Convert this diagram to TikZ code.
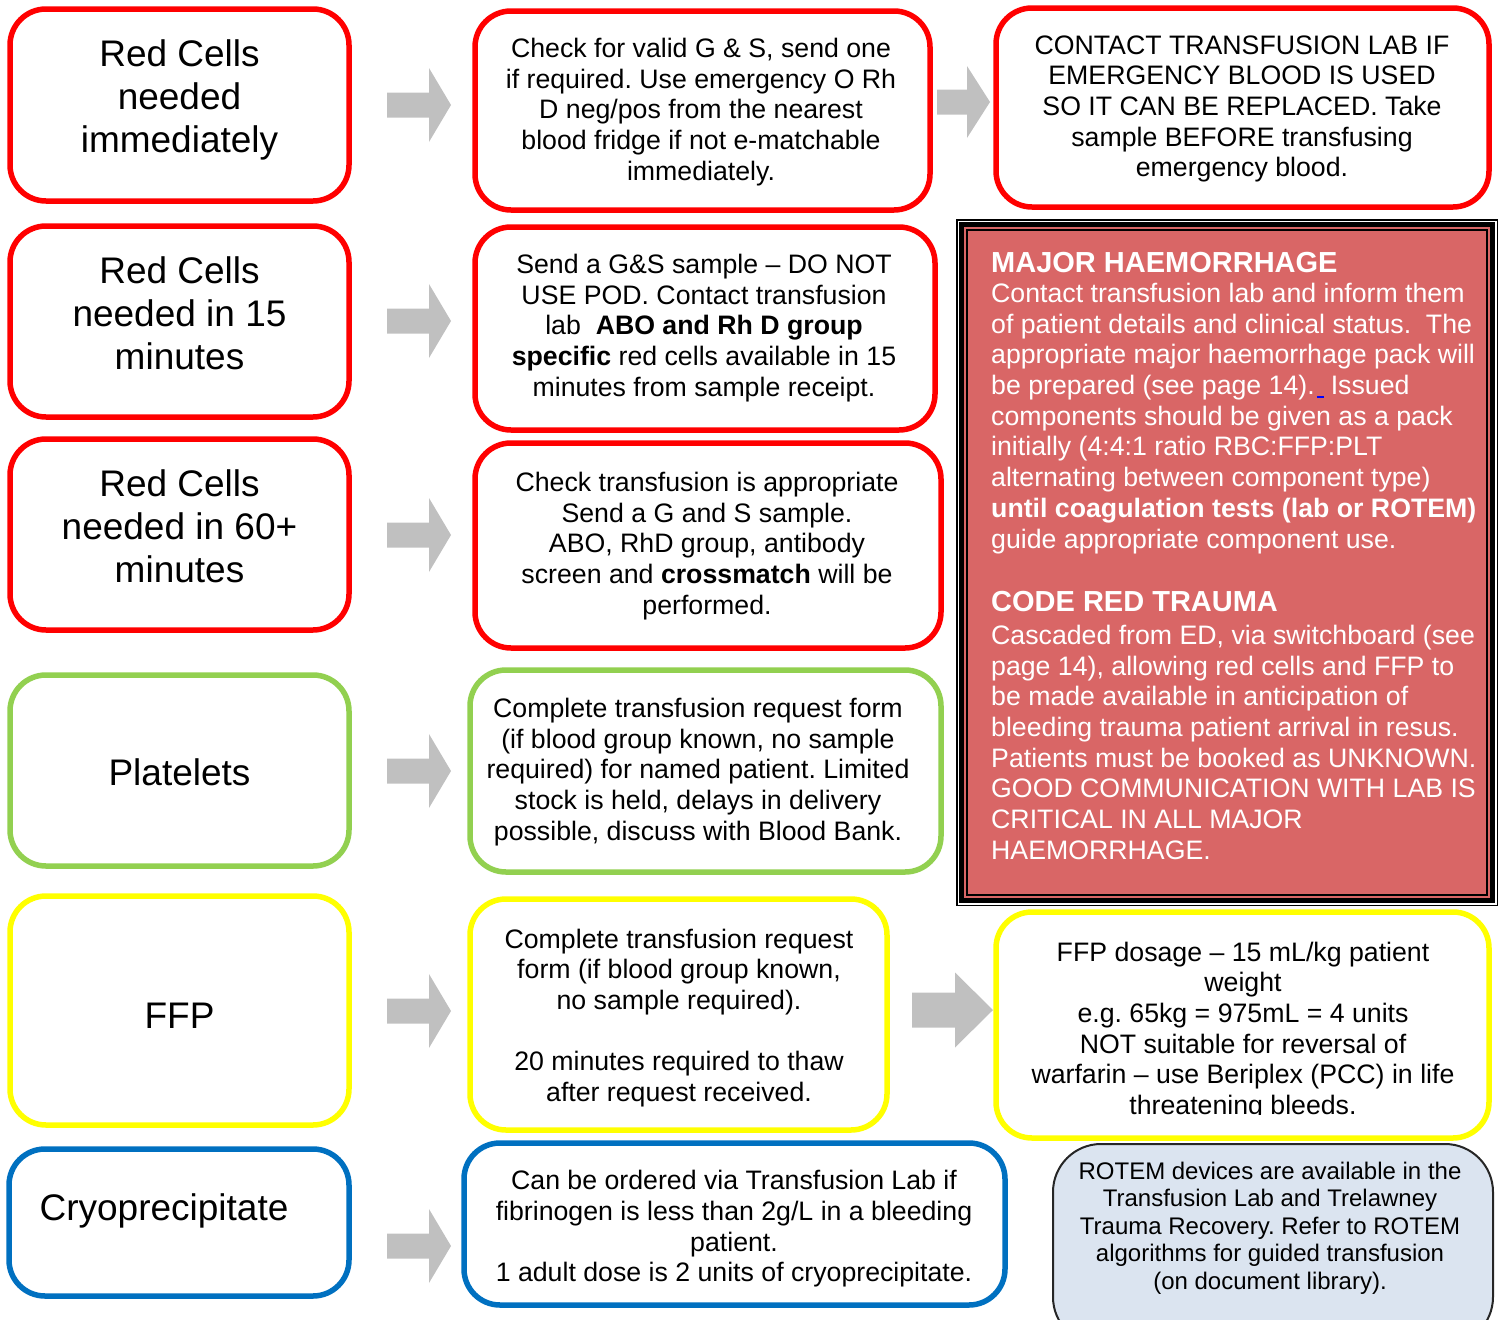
\documentclass[tikz,border=0pt]{standalone}
\usepackage{fontspec}
\setmainfont{Liberation Sans}
\usetikzlibrary{fit}
\frenchspacing

\definecolor{boxred}{RGB}{255,0,0}
\definecolor{boxgreen}{RGB}{146,208,80}
\definecolor{boxyellow}{RGB}{255,255,0}
\definecolor{boxblue}{RGB}{0,112,192}
\definecolor{arrowgrey}{RGB}{192,192,192}
\definecolor{mhred}{RGB}{217,102,102}
\definecolor{rotemfill}{RGB}{219,228,240}

\tikzset{
  panel/.style={draw=#1, line width=5.5pt, rounded corners=36pt, inner sep=0pt},
  bigtext/.style={font=\fontsize{37}{43}\selectfont, align=center, inner sep=0pt},
  bodytext/.style={font=\fontsize{26.7}{30.7}\selectfont, align=center, inner sep=0pt},
  smalltext/.style={font=\fontsize{24}{27.5}\selectfont, align=center, inner sep=0pt},
}

% grey block arrow: body start, head start, tip, centre y, body half height, head half height
\newcommand\blockarrow[6]{%
  \fill[arrowgrey] ({#1},{#4-#5}) -- ({#2},{#4-#5}) -- ({#2},{#4-#6}) -- ({#3},{#4})
    -- ({#2},{#4+#6}) -- ({#2},{#4+#5}) -- ({#1},{#4+#5}) -- cycle;}

\begin{document}
\begin{tikzpicture}[x=1pt,y=-1pt]
\clip (0,0) rectangle (1500,1320);

% ---------- row 1: red cells immediately ----------
\node[panel=boxred, fit={(10,9) (349,201)}] (r1a) {};
\node[bigtext] (r1at) at (179.5,100) {Red Cells\\needed\\immediately};
\node[panel=boxred, fit={(475,11) (930,210)}] (r1b) {};
\node[bodytext] (r1bt) at (701,112) {Check for valid G \& S, send one\\if required. Use emergency O Rh\\D neg/pos from the nearest\\blood fridge if not e-matchable\\immediately.};
\node[panel=boxred, fit={(996,8) (1489,207)}] (r1c) {};
\node[bodytext] (r1ct) at (1242,109) {CONTACT TRANSFUSION LAB IF\\EMERGENCY BLOOD IS USED\\SO IT CAN BE REPLACED. Take\\sample BEFORE transfusing\\emergency blood.};
\blockarrow{387}{429}{451}{105}{12.5}{37}
\blockarrow{937}{967}{990}{102}{12.5}{36}

% ---------- row 2: red cells in 15 minutes ----------
\node[panel=boxred, fit={(10,226) (349,417)}] (r2a) {};
\node[bigtext] (r2at) at (179.5,313) {Red Cells\\needed in 15\\minutes};
\node[panel=boxred, fit={(475,227) (935,430)}] (r2b) {};
\node[bodytext] (r2bt) at (704,328) {Send a G\&S sample – DO NOT\\USE POD. Contact transfusion\\lab\ \ \textbf{ABO and Rh D group}\\\textbf{specific} red cells available in 15\\minutes from sample receipt.};
\blockarrow{387}{429}{451}{321}{12.5}{37}

% ---------- row 3: red cells in 60+ minutes ----------
\node[panel=boxred, fit={(10,439) (349,630)}] (r3a) {};
\node[bigtext] (r3at) at (179.5,526) {Red Cells\\needed in 60+\\minutes};
\node[panel=boxred, fit={(475,443) (941,648)}] (r3b) {};
\node[bodytext] (r3bt) at (707,546) {Check transfusion is appropriate\\Send a G and S sample.\\ABO, RhD group, antibody\\screen and \textbf{crossmatch} will be\\performed.};
\blockarrow{387}{429}{451}{535}{12.5}{37}

% ---------- row 4: platelets ----------
\node[panel=boxgreen, fit={(10,675) (349,866)}] (r4a) {};
\node[bigtext] (r4at) at (179.5,772) {Platelets};
\node[panel=boxgreen, fit={(470,670) (941,872)}] (r4b) {};
\node[bodytext] (r4bt) at (698,772) {Complete transfusion request form\\(if blood group known, no sample\\required) for named patient. Limited\\stock is held, delays in delivery\\possible, discuss with Blood Bank.};
\blockarrow{387}{429}{451}{771}{12.5}{37}

% ---------- row 5: FFP ----------
\node[panel=boxyellow, fit={(10,896) (349,1125)}] (r5a) {};
\node[bigtext] (r5at) at (179.5,1016) {FFP};
\node[panel=boxyellow, fit={(470,899) (887,1130)}] (r5b) {};
\node[bodytext] (r5bt) at (679,1018) {Complete transfusion request\\form (if blood group known,\\no sample required).\\[30.7pt]20 minutes required to thaw\\after request received.};
\node[panel=boxyellow, fit={(996,912) (1489,1138)}] (r5c) {};
\begin{scope}
  \clip (996,912) rectangle (1489,1114);
  \node[bodytext] (r5ct) at (1243,1031) {FFP dosage – 15 mL/kg patient\\weight\\e.g. 65kg = 975mL = 4 units\\NOT suitable for reversal of\\warfarin – use Beriplex (PCC) in life\\threatening bleeds.};
\end{scope}
\blockarrow{387}{429}{451}{1011}{12.5}{37}
\blockarrow{912}{955}{993}{1010}{17.5}{37.5}

% ---------- row 6: cryoprecipitate ----------
\node[panel=boxblue, fit={(9,1149) (349,1296)}] (r6a) {};
\node[bigtext] (r6at) at (164,1211) {Cryoprecipitate};
\node[panel=boxblue, fit={(464,1143) (1005,1305)}] (r6b) {};
\node[bodytext] (r6bt) at (734,1229) {Can be ordered via Transfusion Lab if\\fibrinogen is less than 2g/L in a bleeding\\patient.\\1 adult dose is 2 units of cryoprecipitate.};
\blockarrow{387}{429}{451}{1246}{12.5}{37}

% ---------- ROTEM note ----------
\node[draw=black!85, line width=2pt, fill=rotemfill, rounded corners=48pt, inner sep=0pt, fit={(1053,1144) (1493,1345)}] (rotem) {};
\node[smalltext] (rotemt) at (1270,1228) {ROTEM devices are available in the\\Transfusion Lab and Trelawney\\Trauma Recovery. Refer to ROTEM\\algorithms for guided transfusion\\(on document library).};

% ---------- major haemorrhage panel ----------
\draw[line width=1.5pt] (956.75,219.75) rectangle (1497.25,905.25);
\fill[mhred] (964,227) rectangle (1490,898);
\draw[line width=5pt] (961.5,224.5) rectangle (1492.5,900.5);
\draw[line width=1.5pt] (967,230) rectangle (1487,895);
\node[anchor=north west, align=left, text=white, inner sep=0pt,
      font=\fontsize{26.7}{30.7}\selectfont] (mht) at (991,252)
  {{\fontsize{29}{30.7}\selectfont\bfseries MAJOR HAEMORRHAGE}\\[-0.7pt]
   Contact transfusion lab and inform them\\
   of patient details and clinical status.\ \ The\\
   appropriate major haemorrhage pack will\\
   be prepared (see page 14).\hspace{2pt}\textcolor{blue}{\rule[-3pt]{7pt}{1.5pt}}\hspace{7pt}Issued\\
   components should be given as a pack\\
   initially (4:4:1 ratio RBC:FFP:PLT\\
   alternating between component type)\\
   \textbf{until coagulation tests (lab or ROTEM)}\\
   guide appropriate component use.\\[32.5pt]
   {\fontsize{29}{30.7}\selectfont\bfseries CODE RED TRAUMA}\\[2.5pt]
   Cascaded from ED, via switchboard (see\\
   page 14), allowing red cells and FFP to\\
   be made available in anticipation of\\
   bleeding trauma patient arrival in resus.\\
   Patients must be booked as UNKNOWN.\\
   GOOD COMMUNICATION WITH LAB IS\\
   CRITICAL IN ALL MAJOR\\
   HAEMORRHAGE.};
\end{tikzpicture}
\end{document}
